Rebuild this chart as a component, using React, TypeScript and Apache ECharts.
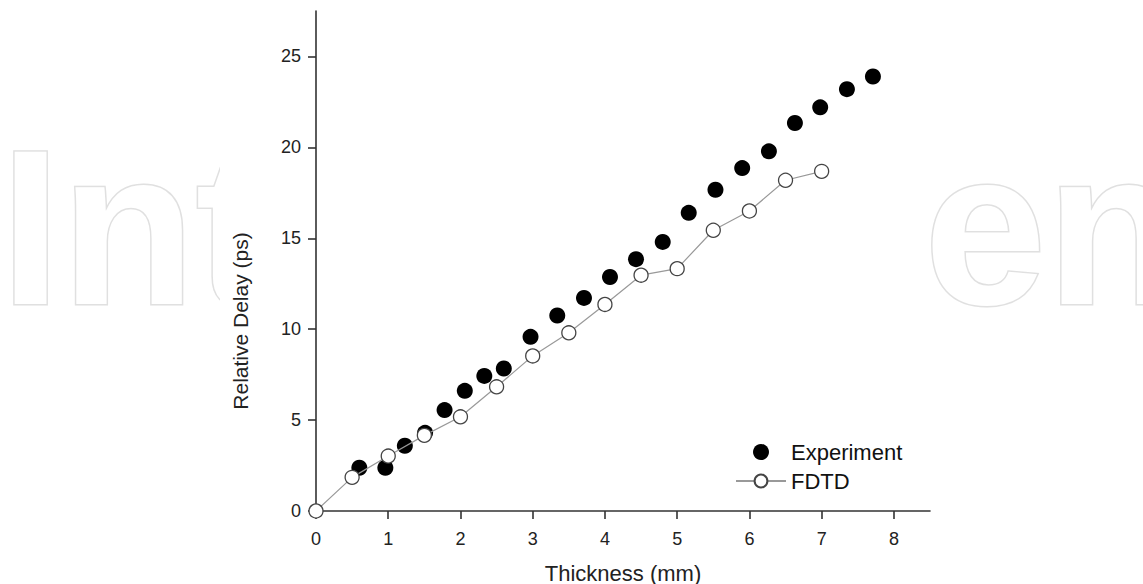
import React, { useEffect, useRef } from "react";
import * as echarts from "echarts";

const FONT = "'Liberation Sans', Arial, Helvetica, sans-serif";

const expX = [0.6, 0.96, 1.23, 1.51, 1.78, 2.06, 2.33, 2.6, 2.97, 3.34, 3.71, 4.07, 4.43, 4.8, 5.16, 5.53, 5.9, 6.27, 6.63, 6.98, 7.35, 7.71];
const expY = [2.38, 2.38, 3.59, 4.3, 5.55, 6.61, 7.43, 7.84, 9.58, 10.75, 11.72, 12.87, 13.85, 14.8, 16.4, 17.67, 18.86, 19.78, 21.34, 22.2, 23.2, 23.9];

const fdtdX = [0, 0.5, 1, 1.5, 2, 2.5, 3, 3.5, 4, 4.5, 5, 5.5, 6, 6.5, 7];
const fdtdY = [0, 1.85, 3.02, 4.16, 5.18, 6.83, 8.53, 9.8, 11.36, 12.97, 13.33, 15.44, 16.5, 18.19, 18.68];

const xTicks = [0, 1, 2, 3, 4, 5, 6, 7, 8];
const yTicks = [0, 5, 10, 15, 20, 25];

const seriesNames = ["Experiment", "FDTD"];
const xTitle = "Thickness (mm)";
const yTitle = "Relative Delay (ps)";

const watermarkParts = ["Int", "en"];
const watermarkLeft = [0, 924];

export default function App() {
  const ref = useRef<HTMLDivElement>(null);
  useEffect(() => {
    if (!ref.current) return;
    const chart = echarts.init(ref.current, null, { renderer: "svg" });
    const axisCommon = {
      type: "value",
      axisLine: { show: true, lineStyle: { color: "#333", width: 1.6 } },
      axisTick: { show: true, inside: false, length: 8, lineStyle: { color: "#333", width: 1.6 } },
      splitLine: { show: false },
    };
    const watermark = watermarkParts.map((txt, i) => ({
      type: "text",
      z: -10,
      x: watermarkLeft[i],
      y: 118,
      style: { text: txt, font: `bold 220px ${FONT}`, fill: "#ffffff", stroke: "#e0e0e0", lineWidth: 3 },
    }));
    chart.setOption({
      animation: false,
      backgroundColor: "#ffffff",
      textStyle: { fontFamily: FONT },
      grid: { left: 316, right: 213, top: 11, bottom: 73, containLabel: false, outerBoundsMode: "none" },
      xAxis: {
        ...axisCommon,
        min: 0,
        max: 8.5,
        axisTick: { ...axisCommon.axisTick, customValues: xTicks },
        axisLabel: { customValues: xTicks, fontSize: 18, color: "#222", margin: 19, fontFamily: FONT },
        name: xTitle,
        nameLocation: "middle",
        nameGap: 51,
        nameTextStyle: { fontSize: 22, color: "#222", fontFamily: FONT },
      },
      yAxis: {
        ...axisCommon,
        min: 0,
        max: 27.5,
        axisTick: { ...axisCommon.axisTick, customValues: yTicks },
        axisLabel: { customValues: yTicks, fontSize: 18, color: "#222", margin: 15, fontFamily: FONT },
      },
      legend: {
        data: seriesNames,
        orient: "vertical",
        left: 730,
        top: 436,
        itemWidth: 50,
        itemHeight: 16,
        itemGap: 7,
        textStyle: { fontSize: 22, color: "#111", fontFamily: FONT },
      },
      graphic: [
        ...watermark,
        {
          type: "rect",
          z: -9,
          shape: { x: 220, y: 120, width: 708, height: 200 },
          style: { fill: "#ffffff" },
        },
        {
          type: "text",
          x: 240,
          y: 321,
          rotation: Math.PI / 2,
          style: {
            text: yTitle,
            font: `21px ${FONT}`,
            fill: "#222",
            align: "center",
            verticalAlign: "middle",
          },
        },
      ],
      series: [
        {
          name: seriesNames[0],
          type: "scatter",
          symbol: "circle",
          symbolSize: 16,
          itemStyle: { color: "#000000", opacity: 1 },
          data: expX.map((x, i) => [x, expY[i]]),
          z: 3,
        },
        {
          name: seriesNames[1],
          type: "line",
          symbol: "circle",
          symbolSize: 14,
          showAllSymbol: true,
          itemStyle: { color: "#ffffff", borderColor: "#444", borderWidth: 1.3 },
          lineStyle: { color: "#999", width: 1.2 },
          data: fdtdX.map((x, i) => [x, fdtdY[i]]),
          z: 4,
        },
      ],
    });
    return () => chart.dispose();
  }, []);
  return <div ref={ref} style={{ position: "fixed", left: 0, top: 0, width: 1143, height: 584 }} />;
}
